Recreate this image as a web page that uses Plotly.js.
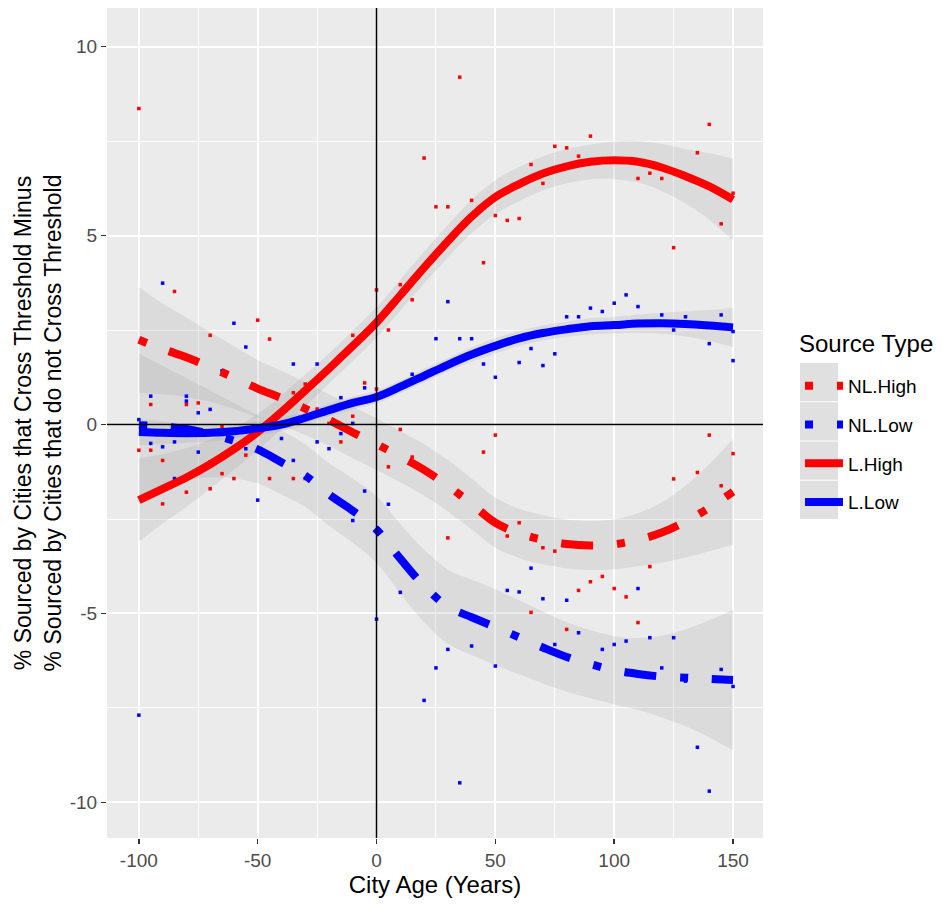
<!DOCTYPE html>
<html>
<head>
<meta charset="utf-8">
<script src="https://cdn.plot.ly/plotly-3.0.1.min.js"></script>
<style>html,body{margin:0;padding:0;background:#fff;}#chart{width:941px;height:905px;}</style>
</head>
<body>
<div id="chart"></div>
<script>
// ---- Smooth fits ----
const fitX = [-100,-90,-80,-70,-60,-50,-40,-30,-20,-10,0,10,20,30,40,50,60,70,80,90,100,110,120,130,140,150];

const nlHighFit = [2.24,2.0,1.78,1.52,1.24,0.95,0.7,0.42,0.12,-0.21,-0.52,-0.85,-1.2,-1.62,-2.1,-2.6,-2.88,-3.05,-3.16,-3.2,-3.17,-3.05,-2.86,-2.57,-2.2,-1.78];
const nlHighSe  = [1.4,1.2,1.05,0.92,0.83,0.76,0.72,0.7,0.68,0.68,0.68,0.68,0.68,0.68,0.67,0.66,0.65,0.65,0.65,0.65,0.66,0.7,0.8,0.95,1.15,1.4];

const nlLowFit = [-0.02,-0.05,-0.12,-0.25,-0.43,-0.66,-1.0,-1.35,-1.85,-2.28,-2.78,-3.55,-4.27,-4.82,-5.1,-5.36,-5.63,-5.9,-6.15,-6.34,-6.5,-6.6,-6.67,-6.7,-6.73,-6.76];
const nlLowSe  = [1.9,1.6,1.35,1.15,1.0,0.9,0.85,0.83,0.83,0.85,0.88,0.92,0.96,0.98,1.0,1.0,0.98,0.95,0.92,0.9,0.9,0.95,1.08,1.28,1.55,1.86];

const lHighFit = [-2.0,-1.7,-1.4,-1.05,-0.65,-0.2,0.33,0.9,1.48,2.08,2.7,3.42,4.15,4.85,5.5,6.02,6.36,6.64,6.83,6.95,6.99,6.95,6.8,6.57,6.3,5.95];
const lHighSe  = [1.1,0.92,0.78,0.65,0.55,0.48,0.44,0.42,0.4,0.4,0.4,0.41,0.42,0.43,0.44,0.45,0.45,0.45,0.45,0.46,0.5,0.55,0.62,0.72,0.88,1.08];

const lLowFit = [-0.2,-0.22,-0.23,-0.22,-0.18,-0.1,0.0,0.18,0.38,0.57,0.73,1.0,1.29,1.58,1.85,2.08,2.28,2.42,2.52,2.6,2.63,2.67,2.68,2.66,2.62,2.57];
const lLowSe  = [0.35,0.3,0.26,0.23,0.2,0.19,0.18,0.17,0.17,0.17,0.17,0.17,0.18,0.18,0.19,0.2,0.2,0.2,0.2,0.21,0.22,0.24,0.28,0.33,0.41,0.52];

// ---- Raw points ----
const redX = [-100,20,-85,-70,-50,-45,0,10,15,5,-10,-5,0,-30,-35,-25,-10,-95,-80,-75,10,
  -100,-95,-90,-80,-90,-70,-65,-60,-55,-45,-35,-30,-65,-15,-20,15,5,
  35,25,30,45,40,50,55,60,65,70,75,80,90,85,110,115,120,125,135,140,145,150,
  50,45,35,30,60,55,70,75,65,80,85,90,95,100,105,110,115,120,125,135,140,145,150];
const redY = [8.36,7.05,3.52,2.36,2.76,2.26,3.56,3.7,3.3,2.5,2.36,1.1,0.94,1.07,0.84,0.41,0.22,0.53,0.53,0.57,-0.13,
  -0.68,-0.68,-0.95,-1.79,-2.1,-1.7,-1.3,-1.43,-0.81,-1.43,-1.43,-1.43,-0.05,-0.46,0.03,-0.86,-1.12,
  9.19,5.76,5.76,4.28,5.93,5.53,5.4,5.45,6.88,6.38,7.36,7.32,7.63,7.1,6.51,6.65,6.51,4.68,7.19,7.94,5.31,6.12,
  -0.28,-0.73,-1.88,-3.0,-2.6,-2.95,-3.26,-3.35,-4.97,-5.42,-4.39,-4.16,-4.02,-4.34,-4.56,-5.24,-3.76,-2.82,-1.44,-1.27,-0.28,-1.62,-0.77];

const blueX = [-90,-60,-55,-35,-25,-95,-80,-80,-70,-75,-65,-15,-5,15,-100,
  -95,-90,-85,-75,-70,-85,-55,-40,-35,-50,
  -25,-20,-15,-10,-10,-5,0,5,10,20,-100,
  30,25,35,40,45,50,60,65,70,75,80,85,90,95,100,105,110,120,125,130,140,145,150,150,
  65,55,60,70,80,85,75,95,100,105,110,115,125,120,130,145,150,30,40,25,50,35,135,140];
const blueY = [3.74,2.68,2.05,1.6,1.6,0.75,0.75,0.62,0.4,0.31,1.42,0.71,0.97,1.33,0.13,
  -0.5,-0.59,-0.46,-0.73,-0.99,-1.43,-0.64,-0.37,-0.95,-2.0,
  -0.46,-0.64,-0.24,0.03,-2.54,-1.76,-5.15,-2.11,-4.44,-7.3,-7.69,
  3.25,2.27,2.27,2.27,1.6,1.25,1.64,2.01,1.56,1.87,2.85,2.85,3.08,2.99,3.21,3.43,3.12,2.9,2.5,2.85,2.14,2.9,2.46,1.69,
  -3.8,-4.39,-4.43,-4.61,-4.65,-5.51,-5.82,-5.95,-5.82,-5.73,-4.34,-5.64,-5.64,-6.44,-6.79,-6.48,-6.93,-5.95,-5.86,-6.44,-6.39,-9.48,-8.54,-9.7];

const seriesNames = ['NL.High','NL.Low','L.High','L.Low'];
const legendTitle = 'Source Type';
const refX = 0, refY = 0;

// ---- Styles ----
const RED = '#FF0000', BLUE = '#0000FF';
const RIBBON = 'rgba(153,153,153,0.2)';
const DOTDASH = '8px,24px,32px,24px';
const LW = 8;

const series = [
  {name: seriesNames[0], fit: nlHighFit, se: nlHighSe, color: RED,  dash: DOTDASH},
  {name: seriesNames[1], fit: nlLowFit,  se: nlLowSe,  color: BLUE, dash: DOTDASH},
  {name: seriesNames[2], fit: lHighFit,  se: lHighSe,  color: RED,  dash: 'solid'},
  {name: seriesNames[3], fit: lLowFit,   se: lLowSe,   color: BLUE, dash: 'solid'}
];

const traces = [];
// ribbons
series.forEach(s => {
  traces.push({x: fitX, y: s.fit.map((v,i)=>v - s.se[i]), type:'scatter', mode:'lines',
    line:{width:0, shape:'spline', color:'rgba(0,0,0,0)'}, showlegend:false, hoverinfo:'skip'});
  traces.push({x: fitX, y: s.fit.map((v,i)=>v + s.se[i]), type:'scatter', mode:'lines',
    line:{width:0, shape:'spline', color:'rgba(0,0,0,0)'}, fill:'tonexty', fillcolor: RIBBON,
    showlegend:false, hoverinfo:'skip'});
});
// points
traces.push({x: redX, y: redY, type:'scatter', mode:'markers',
  marker:{symbol:'square', size:3.5, color:RED}, showlegend:false, hoverinfo:'skip'});
traces.push({x: blueX, y: blueY, type:'scatter', mode:'markers',
  marker:{symbol:'square', size:3.5, color:BLUE}, showlegend:false, hoverinfo:'skip'});
// smooth lines
series.forEach((s, k) => {
  traces.push({x: fitX, y: s.fit, type:'scatter', mode:'lines', name: s.name,
    legendgroup: 'g'+k, legendrank: k+1,
    line:{color:s.color, width:LW, dash:s.dash, shape:'spline'}, hoverinfo:'skip'});
});

// layout geometry helpers
const M = {l:107, r:178, t:8, b:67};
const W = 941, H = 905;
const pw = W - M.l - M.r, ph = H - M.t - M.b;
const px2x = p => (p - M.l)/pw;
const py2y = p => (H - M.b - p)/ph;

// legend key backgrounds
const keyLeft = 800, keyW = 38, keyTop = 363, keyH = 39.25;
const shapes = [];
for (let i = 0; i < 4; i++) {
  shapes.push({type:'rect', xref:'paper', yref:'paper', layer:'below',
    x0: px2x(keyLeft), x1: px2x(keyLeft+keyW),
    y0: py2y(keyTop + keyH*i + keyH - 1), y1: py2y(keyTop + keyH*i),
    fillcolor:'#E0E0E0', line:{width:0}});
}
shapes.push({type:'line', xref:'x', yref:'paper', x0:refX, x1:refX, y0:0, y1:1, layer:'above',
  line:{color:'#000', width:1.5}});
shapes.push({type:'line', xref:'paper', yref:'y', x0:0, x1:1, y0:refY, y1:refY, layer:'above',
  line:{color:'#000', width:1.5}});

const FONT = 'Liberation Sans, Arial, sans-serif';
const layout = {
  width: W, height: H,
  margin: M,
  paper_bgcolor:'#FFFFFF', plot_bgcolor:'#EBEBEB',
  font:{family:FONT, color:'#000'},
  showlegend:true,
  xaxis:{range:[-113.4,162.6], tickvals:[-100,-50,0,50,100,150], ticktext:['-100','-50','0','50','100','150'],
    showgrid:true, gridcolor:'#FFFFFF', gridwidth:2, zeroline:false, showline:false,
    ticks:'outside', ticklen:5, tickwidth:1.5, tickcolor:'#333333',
    tickfont:{family:FONT, size:19, color:'#4D4D4D'},
    minor:{tickvals:[-75,-25,25,75,125], showgrid:true, gridcolor:'#FFFFFF', gridwidth:1, ticks:''},
    title:{text:'City Age (Years)', font:{family:FONT, size:24, color:'#000'}, standoff:6},
    automargin:false},
  yaxis:{range:[-10.94,11.02], tickvals:[-10,-5,0,5,10], ticktext:['-10','-5','0','5','10'],
    showgrid:true, gridcolor:'#FFFFFF', gridwidth:2, zeroline:false, showline:false,
    ticks:'outside', ticklen:5, tickwidth:1.5, tickcolor:'#333333',
    tickfont:{family:FONT, size:19, color:'#4D4D4D'},
    minor:{tickvals:[-7.5,-2.5,2.5,7.5], showgrid:true, gridcolor:'#FFFFFF', gridwidth:1, ticks:''},
    title:{text:'% Sourced by Cities that Cross Threshold Minus<br>% Sourced by Cities that do not Cross Threshold',
      font:{family:FONT, size:23, color:'#000'}, standoff:1},
    automargin:false},
  legend:{x: px2x(800), xanchor:'left', y: py2y(367), yanchor:'top',
    bgcolor:'rgba(0,0,0,0)', borderwidth:0,
    font:{family:FONT, size:19, color:'#000'},
    tracegroupgap: 11, itemwidth: 38, traceorder:'grouped'},
  annotations:[{text: legendTitle, xref:'paper', yref:'paper', x: px2x(797), y: py2y(344),
    xanchor:'left', yanchor:'middle', showarrow:false, font:{family:FONT, size:24, color:'#000'}}],
  shapes: shapes
};

Plotly.newPlot('chart', traces, layout, {staticPlot:true, displayModeBar:false});
</script>
</body>
</html>
